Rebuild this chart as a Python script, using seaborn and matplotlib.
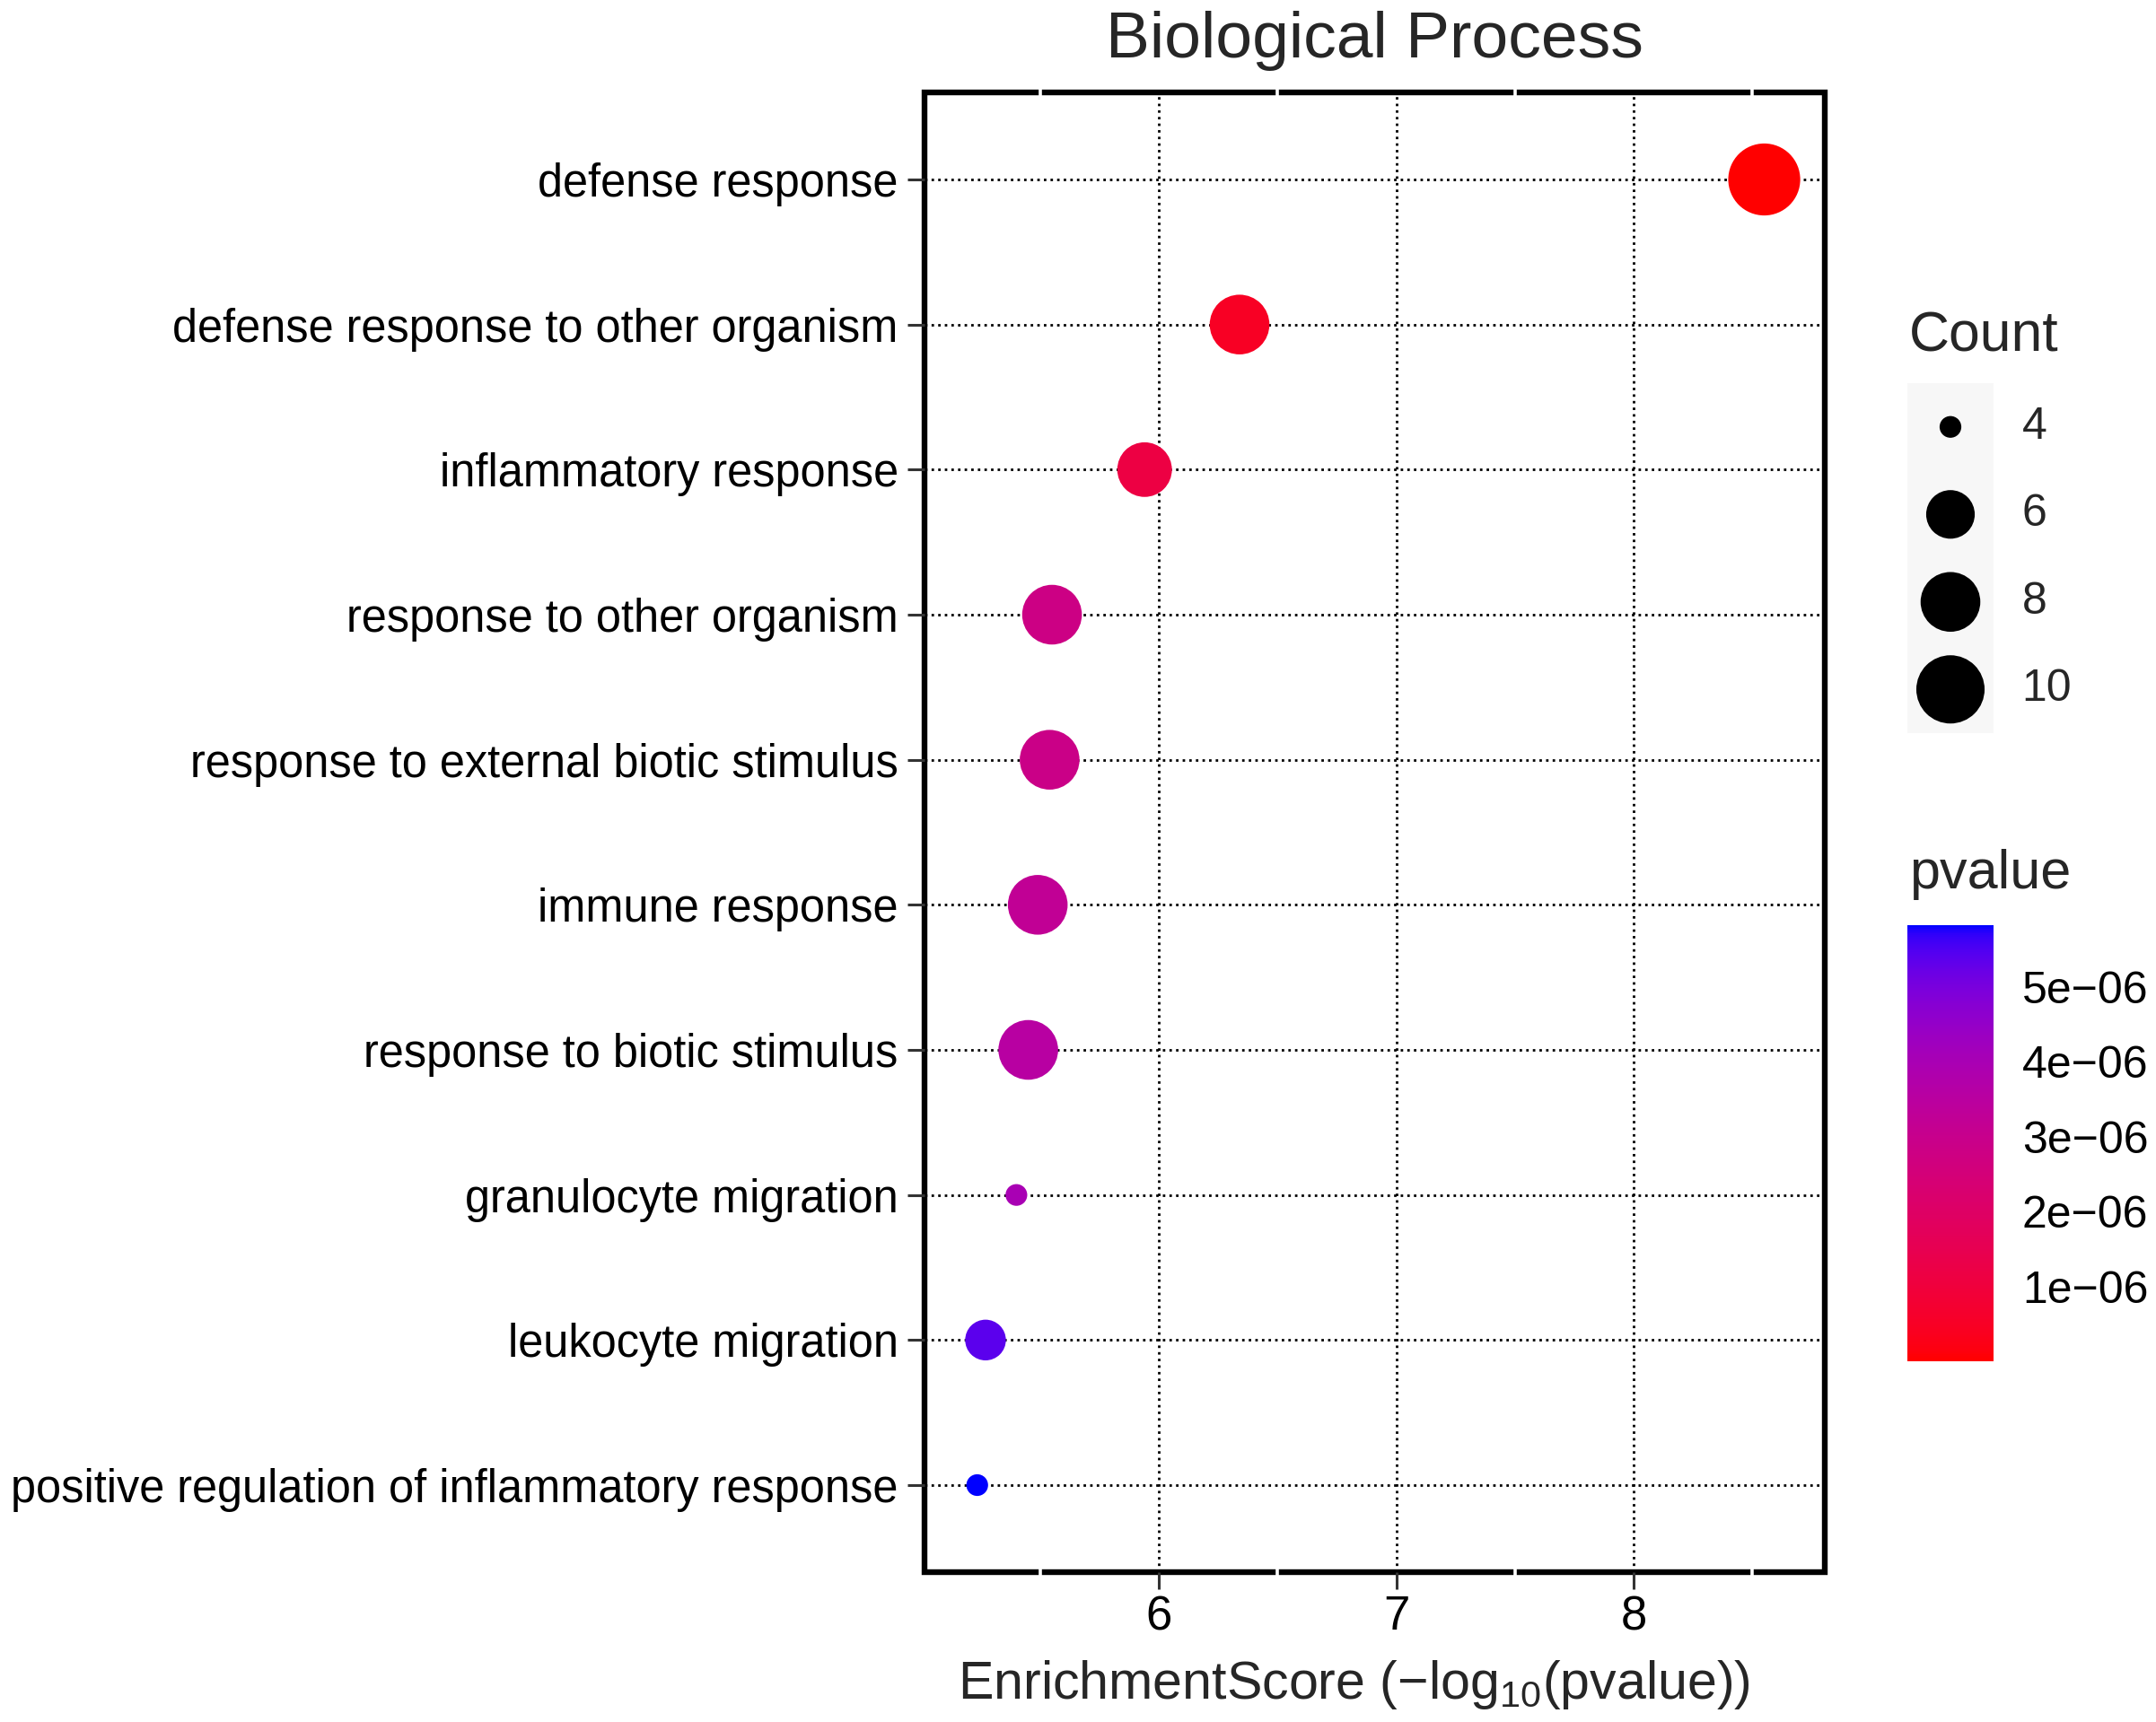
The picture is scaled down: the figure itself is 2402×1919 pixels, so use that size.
import numpy as np
import pandas as pd
import matplotlib
matplotlib.use("Agg")
import matplotlib.pyplot as plt
import seaborn as sns
from matplotlib.colors import ListedColormap, Normalize
from matplotlib.cm import ScalarMappable
from matplotlib.patches import Rectangle

DPI = 200
W, H = 2402, 1919

terms = [
    "defense response",
    "defense response to other organism",
    "inflammatory response",
    "response to other organism",
    "response to external biotic stimulus",
    "immune response",
    "response to biotic stimulus",
    "granulocyte migration",
    "leukocyte migration",
    "positive regulation of inflammatory response",
]
enrichment = [8.55, 6.34, 5.94, 5.55, 5.54, 5.49, 5.45, 5.40, 5.27, 5.235]
pvalue = [2.8e-9, 4.6e-7, 1.15e-6, 2.82e-6, 2.88e-6, 3.24e-6, 3.55e-6, 3.98e-6, 5.37e-6, 5.82e-6]
count = [11, 8, 7, 8, 8, 8, 8, 4, 5, 4]

legend_counts = [4, 6, 8, 10]
cbar_ticks = [1e-6, 2e-6, 3e-6, 4e-6, 5e-6]
x_ticks = [6, 7, 8]

df = pd.DataFrame({"term": terms, "score": enrichment, "pvalue": pvalue, "Count": count})


# ggplot-like red -> blue gradient, interpolated in CIELAB
def srgb_to_lab(rgb):
    c = np.array(rgb, dtype=float)
    lin = np.where(c <= 0.04045, c / 12.92, ((c + 0.055) / 1.055) ** 2.4)
    m = np.array([[0.4124, 0.3576, 0.1805],
                  [0.2126, 0.7152, 0.0722],
                  [0.0193, 0.1192, 0.9505]])
    xyz = m @ lin / np.array([0.95047, 1.0, 1.08883])
    f = np.where(xyz > (6 / 29) ** 3, np.cbrt(xyz), xyz / (3 * (6 / 29) ** 2) + 4 / 29)
    return np.array([116 * f[1] - 16, 500 * (f[0] - f[1]), 200 * (f[1] - f[2])])


def lab_to_srgb(lab):
    L, a, b = lab
    fy = (L + 16) / 116
    f = np.array([fy + a / 500, fy, fy - b / 200])
    t = np.where(f > 6 / 29, f ** 3, 3 * (6 / 29) ** 2 * (f - 4 / 29))
    xyz = t * np.array([0.95047, 1.0, 1.08883])
    m = np.array([[3.2406, -1.5372, -0.4986],
                  [-0.9689, 1.8758, 0.0415],
                  [0.0557, -0.2040, 1.0570]])
    lin = m @ xyz
    c = np.where(lin <= 0.0031308, 12.92 * lin, 1.055 * np.abs(lin) ** (1 / 2.4) - 0.055)
    return np.clip(c, 0, 1)


lab_lo = srgb_to_lab([1, 0, 0])
lab_hi = srgb_to_lab([0, 0, 1])
cmap = ListedColormap([lab_to_srgb(lab_lo + (lab_hi - lab_lo) * t) for t in np.linspace(0, 1, 256)])
norm = Normalize(min(pvalue), max(pvalue))

cmin, cmax = min(count), max(count)


def marker_area(c):
    size_mm = 1 + 5 * np.sqrt((c - cmin) / (cmax - cmin))
    d_px = 11.2 * size_mm + 13
    return (d_px * 72 / DPI) ** 2


sizes = {c: marker_area(c) for c in sorted(set(count) | set(legend_counts))}

sns.set_style("white")
plt.rcParams["font.family"] = ["Liberation Sans", "DejaVu Sans"]
plt.rcParams["mathtext.default"] = "regular"

fig = plt.figure(figsize=(W / DPI, H / DPI), dpi=DPI)
ax = fig.add_axes([1030 / W, 1 - 1752 / H, (2033 - 1030) / W, (1752 - 103) / H])

# panel border drawn under the grid, minor white grid cuts through it
ax.add_patch(Rectangle((0, 0), 1, 1, transform=ax.transAxes, fill=False,
                       edgecolor="black", lw=2.3, zorder=0.3, clip_on=False))
for xm in [5.5, 6.5, 7.5, 8.5]:
    ax.axvline(xm, ymin=-0.01, ymax=1.01, color="white", lw=1.3, zorder=0.4, clip_on=False)

sns.scatterplot(data=df, x="score", y="term", hue="pvalue", palette=cmap, hue_norm=norm,
                size="Count", sizes=sizes, linewidth=0, legend=False, ax=ax, zorder=3)

ax.set_xlim(5.013, 8.805)
ax.set_ylim(len(terms) - 1 + 0.6, -0.6)
ax.set_xticks(x_ticks)
ax.set_axisbelow(True)
ax.grid(True, linestyle=":", color="black", lw=1.0)
for s in ax.spines.values():
    s.set_visible(False)

ax.tick_params(axis="both", direction="out", length=7, width=1.1, color="#333333",
               labelsize=18.2, labelcolor="black")
ax.tick_params(axis="y", pad=3.5)
ax.tick_params(axis="x", pad=2, labelsize=19)
ax.tick_params(bottom=True, left=True)
ax.set_ylabel("")
ax.set_xlabel("EnrichmentScore (\u2212log$_{10}$(pvalue))", fontsize=21.3)
ax.xaxis.set_label_coords(0.477, -0.058)
ax.xaxis.label.set_va("top")
ax.set_title("Biological Process", fontsize=26.4, pad=14)

# size legend
lax = fig.add_axes([2125 / W, 1 - 817 / H, 96 / W, (817 - 427) / H])
lax.set_facecolor("#f7f7f7")
leg_df = pd.DataFrame({"x": [0] * len(legend_counts), "y": list(range(len(legend_counts))),
                       "Count": legend_counts})
sns.scatterplot(data=leg_df, x="x", y="y", size="Count", sizes=sizes, color="black",
                linewidth=0, legend=False, ax=lax)
lax.set_xlim(-0.5, 0.5)
lax.set_ylim(len(legend_counts) - 0.5, -0.5)
lax.set_xticks([])
lax.set_yticks([])
lax.set_xlabel("")
lax.set_ylabel("")
for s in lax.spines.values():
    s.set_visible(False)
for i, c in enumerate(legend_counts):
    lax.text(1.33, i, str(c), transform=lax.get_yaxis_transform(), va="center", ha="left", fontsize=18)
fig.text(2127 / W, 1 - 391 / H, "Count", fontsize=22.5, ha="left", va="baseline")

# colour bar
cax = fig.add_axes([2125 / W, 1 - 1517 / H, 96 / W, (1517 - 1031) / H])
cb = fig.colorbar(ScalarMappable(norm=norm, cmap=cmap), cax=cax)
cb.outline.set_visible(False)
cb.set_ticks(cbar_ticks)
cb.set_ticklabels([f"{v:.0e}".replace("-", "\u2212") for v in cbar_ticks])
cax.minorticks_off()
cax.tick_params(direction="in", length=6.5, width=0.7, color="white", left=True, right=True,
                labelleft=False, labelright=True, labelcolor="black", labelsize=18, pad=11.5)
fig.text(2127 / W, 1 - 990 / H, "pvalue", fontsize=22, ha="left", va="baseline")

fig.savefig("out.png", dpi=DPI, facecolor="white")
